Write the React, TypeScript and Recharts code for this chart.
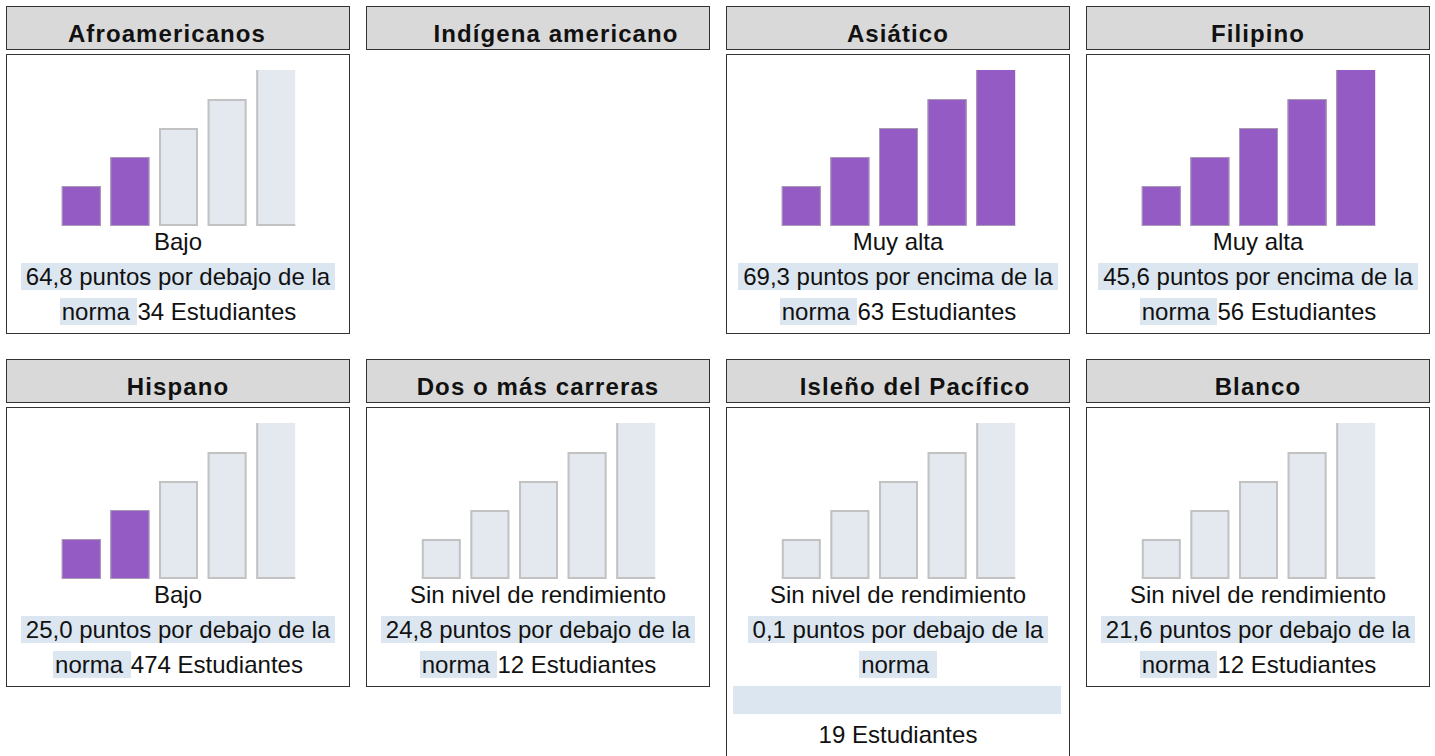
import React from "react";
import { BarChart, Bar, XAxis, YAxis, Cell } from "recharts";

const titles = [
    "Afroamericanos",
    "Indígena americano",
    "Asiático",
    "Filipino",
    "Hispano",
    "Dos o más carreras",
    "Isleño del Pacífico",
    "Blanco",
];

// level reached by each group (number of purple bars), null = no data
const levelNames = ["Bajo", null, "Muy alta", "Muy alta", "Bajo", "Sin nivel de rendimiento", "Sin nivel de rendimiento", "Sin nivel de rendimiento"];
const filledBars = [2, 0, 5, 5, 2, 0, 0, 0];
const points = ["64,8", null, "69,3", "45,6", "25,0", "24,8", "0,1", "21,6"];
const directions = ["debajo", null, "encima", "encima", "debajo", "debajo", "debajo", "debajo"];
const students = [34, null, 63, 56, 474, 12, 19, 12];
const countOnOwnLine = [false, false, false, false, false, false, true, false];

const barLevels = ["Muy bajo", "Bajo", "Medio", "Alto", "Muy alto"];
const barHeights = [25.6, 44.2, 62.8, 81.4, 100];

const PURPLE = "#955bc4";
const LIGHT = "#e4e9f0";
const EDGE = "#c2c2c2";
const HIGHLIGHT = "#dce6f0";
const FONT = "'Liberation Sans', Arial, sans-serif";

// headers in the original are not quite centred
const titleNudge: Record<number, number> = { 0: -11, 1: 18, 6: 17 };

const barData = barLevels.map((name, i) => ({ name, value: barHeights[i] }));

const StepBar = (props: any) => {
    const { x, y, width, height, fill, index } = props;
    const last = index === barLevels.length - 1;
    const stroke = fill === PURPLE ? "#a89bb4" : EDGE;
    const sw = fill === PURPLE ? 1 : 2;
    const h = sw / 2;
    const d = last
        ? `M${x + h},${y} L${x + h},${y + height - h} L${x + width},${y + height - h}`
        : `M${x + h},${y + height - h} L${x + h},${y + h} L${x + width - h},${y + h} L${x + width - h},${y + height - h} Z`;
    return (
        <g>
            <rect x={x} y={y} width={width} height={height} fill={fill} />
            <path d={d} fill="none" stroke={stroke} strokeWidth={sw} />
        </g>
    );
};

const Steps = ({ filled }: { filled: number }) => (
    <BarChart width={243} height={171} data={barData} margin={{ top: 15, right: 0, left: 0, bottom: 0 }} barCategoryGap={4.8}>
        <XAxis dataKey="name" hide />
        <YAxis domain={[0, 100]} hide />
        <Bar dataKey="value" isAnimationActive={false} shape={StepBar}>
            {barData.map((d, i) => (
                <Cell key={d.name} fill={i < filled ? PURPLE : LIGHT} />
            ))}
        </Bar>
    </BarChart>
);

const line: React.CSSProperties = { height: 35, lineHeight: "35px", textAlign: "center", whiteSpace: "nowrap" };
const hl: React.CSSProperties = { background: HIGHLIGHT, padding: "0 5px" };
const hl2: React.CSSProperties = { background: HIGHLIGHT, padding: "0 1px 0 2px" };

const Panel = ({ i }: { i: number }) => {
    const hasData = points[i] !== null;
    const own = countOnOwnLine[i];
    return (
        <div style={{ width: 344 }}>
            <div
                style={{
                    height: 31,
                    paddingTop: 11,
                    border: "1px solid #333",
                    background: "#d9d9d9",
                    fontWeight: "bold",
                    fontSize: 24,
                    letterSpacing: 1.1,
                    lineHeight: "31px",
                    textAlign: "center",
                    whiteSpace: "nowrap",
                }}
            >
                <span style={{ position: "relative", left: titleNudge[i] || 0 }}>{titles[i]}</span>
            </div>
            {hasData && (
                <div
                    style={{
                        marginTop: 4,
                        border: "1px solid #333",
                        paddingBottom: own ? 14 : 4,
                        fontSize: 24,
                        color: "#111",
                    }}
                >
                    <div style={{ display: "flex", justifyContent: "center" }}>
                        <Steps filled={filledBars[i]} />
                    </div>
                    <div style={{ marginTop: -2 }}>
                        <div style={line}>{levelNames[i]}</div>
                        <div style={line}>
                            <span style={hl}>{points[i]} puntos por {directions[i]} de la</span>
                        </div>
                        <div style={line}>
                            <span style={hl2}>norma&nbsp;</span>
                            {!own && <span>{students[i]} Estudiantes</span>}
                        </div>
                        {own && (
                            <>
                                <div style={{ height: 35, display: "flex", alignItems: "center" }}>
                                    <div style={{ height: 28, background: HIGHLIGHT, flex: 1, margin: "0 8px 0 6px" }} />
                                </div>
                                <div style={line}>{students[i]} Estudiantes</div>
                            </>
                        )}
                    </div>
                </div>
            )}
        </div>
    );
};

export default function App() {
    return (
        <div
            style={{
                position: "absolute",
                left: 0,
                top: 0,
                width: 1435,
                height: 756,
                overflow: "hidden",
                background: "#fff",
                fontFamily: FONT,
                color: "#111",
            }}
        >
            {titles.map((t, i) => (
                <div key={t} style={{ position: "absolute", left: 6 + (i % 4) * 360, top: 6 + Math.floor(i / 4) * 353 }}>
                    <Panel i={i} />
                </div>
            ))}
        </div>
    );
}
